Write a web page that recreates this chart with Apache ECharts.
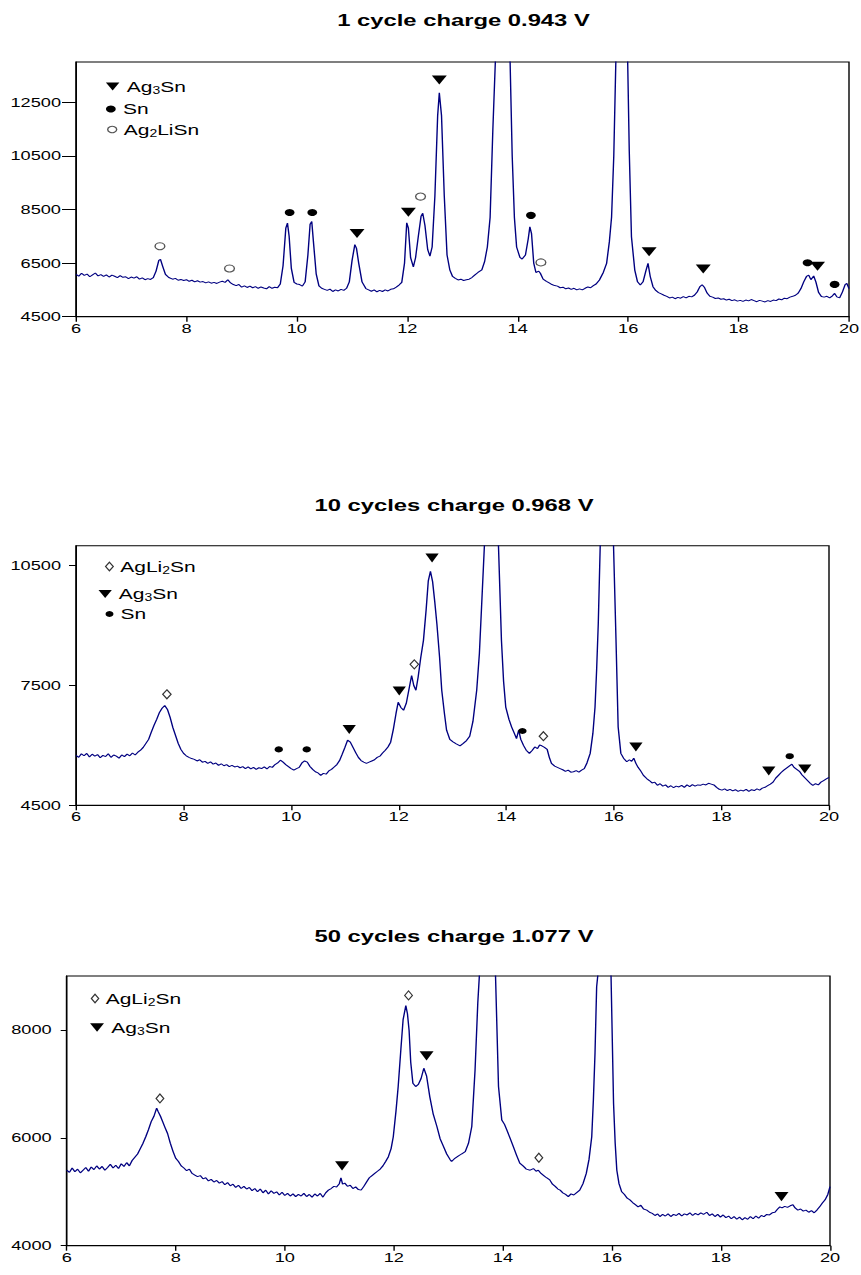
<!DOCTYPE html>
<html>
<head>
<meta charset="utf-8">
<script src="https://cdn.jsdelivr.net/npm/echarts@6/dist/echarts.min.js"></script>
<style>
html, body { margin: 0; background: #fff; overflow: hidden; }
/* the reference is stretched sideways, so the chart is drawn narrow and widened */
#chart { width: 615px; height: 1275px; transform: scaleX(1.4); transform-origin: 0 0; }
</style>
</head>
<body>
<div id="chart"></div>
<script>
// titles and tick labels
const titles = ['1 cycle charge 0.943 V', '10 cycles charge 0.968 V', '50 cycles charge 1.077 V']
const xTicks = [6, 8, 10, 12, 14, 16, 18, 20]
const c1Ticks = [4500, 6500, 8500, 10500, 12500]
const c10Ticks = [4500, 7500, 10500]
const c50Ticks = [4000, 6000, 8000]

// 1 cycle pattern [2theta, counts]
const cycle1 = [
  [6.00, 6080], [6.05, 6010], [6.10, 6120], [6.15, 6040], [6.20, 6090], [6.25, 5990], [6.30, 6060], [6.35, 6130],
  [6.40, 6020], [6.45, 6070], [6.50, 6000], [6.55, 6060], [6.60, 5980], [6.65, 6050], [6.70, 6010], [6.75, 5960],
  [6.80, 6030], [6.85, 5970], [6.90, 5990], [6.95, 5920], [7.00, 5980], [7.05, 5940], [7.10, 5990], [7.15, 5900],
  [7.20, 5950], [7.25, 5880], [7.30, 5920], [7.35, 5890], [7.40, 5960], [7.45, 6200], [7.50, 6600], [7.53, 6640],
  [7.57, 6380], [7.62, 6080], [7.68, 5960], [7.75, 5900], [7.80, 5930], [7.85, 5860], [7.90, 5890], [7.95, 5850],
  [8.00, 5880], [8.05, 5820], [8.10, 5860], [8.15, 5800], [8.20, 5840], [8.25, 5790], [8.30, 5810], [8.35, 5760],
  [8.40, 5800], [8.45, 5750], [8.50, 5780], [8.55, 5740], [8.60, 5790], [8.65, 5820], [8.70, 5780], [8.75, 5880],
  [8.80, 5760], [8.85, 5700], [8.90, 5660], [8.95, 5700], [9.00, 5600], [9.05, 5650], [9.10, 5590], [9.15, 5640],
  [9.20, 5580], [9.25, 5620], [9.30, 5560], [9.35, 5610], [9.40, 5570], [9.45, 5540], [9.50, 5620], [9.55, 5560],
  [9.60, 5600], [9.65, 5580], [9.70, 5720], [9.75, 6400], [9.80, 7800], [9.83, 7990], [9.86, 7500], [9.90, 6300],
  [9.95, 5780], [10.00, 5720], [10.05, 5700], [10.10, 5640], [10.15, 5800], [10.20, 6800], [10.24, 7950], [10.27, 8050],
  [10.30, 7300], [10.35, 6100], [10.40, 5650], [10.45, 5560], [10.50, 5520], [10.55, 5480], [10.60, 5530], [10.65, 5440],
  [10.70, 5500], [10.75, 5460], [10.80, 5520], [10.85, 5480], [10.90, 5560], [10.95, 5800], [11.00, 6600], [11.05, 7190],
  [11.08, 7050], [11.12, 6500], [11.18, 5800], [11.25, 5550], [11.30, 5500], [11.35, 5450], [11.40, 5500], [11.45, 5430],
  [11.50, 5480], [11.55, 5440], [11.60, 5500], [11.65, 5460], [11.70, 5520], [11.75, 5540], [11.80, 5600], [11.85, 5680],
  [11.90, 5780], [11.95, 6500], [11.99, 8000], [12.02, 7800], [12.06, 6700], [12.11, 6360], [12.15, 6700], [12.20, 7500],
  [12.25, 8250], [12.28, 8360], [12.32, 7900], [12.37, 7000], [12.41, 6760], [12.45, 7100], [12.50, 9000], [12.55, 12000],
  [12.58, 12850], [12.62, 12000], [12.67, 9000], [12.72, 6800], [12.77, 6250], [12.82, 6000], [12.87, 5930], [12.92, 5870],
  [12.97, 5900], [13.02, 5850], [13.07, 5880], [13.12, 5900], [13.17, 5960], [13.22, 6050], [13.28, 6150], [13.35, 6250],
  [13.40, 6550], [13.45, 7100], [13.50, 8200], [13.55, 11500], [13.60, 14300], [13.66, 30000], [13.73, 40000], [13.80, 28000],
  [13.86, 14200], [13.90, 10500], [13.94, 8200], [13.98, 7100], [14.04, 6710], [14.08, 6650], [14.14, 6800], [14.19, 7400],
  [14.22, 7850], [14.25, 7600], [14.29, 6500], [14.33, 6150], [14.38, 6200], [14.41, 6120], [14.46, 5900], [14.52, 5820],
  [14.57, 5760], [14.62, 5700], [14.67, 5660], [14.72, 5640], [14.77, 5580], [14.82, 5600], [14.87, 5540], [14.92, 5570],
  [14.97, 5520], [15.02, 5560], [15.07, 5500], [15.12, 5540], [15.17, 5500], [15.22, 5560], [15.27, 5610], [15.32, 5580],
  [15.37, 5660], [15.42, 5720], [15.48, 5870], [15.55, 6150], [15.61, 6490], [15.66, 7300], [15.70, 8220], [15.74, 10500],
  [15.78, 14300], [15.84, 30000], [15.90, 42000], [15.95, 25000], [15.99, 14200], [16.02, 10700], [16.06, 7480], [16.12, 6240],
  [16.17, 5800], [16.22, 5680], [16.27, 5800], [16.32, 6200], [16.36, 6490], [16.40, 6000], [16.45, 5620], [16.50, 5480],
  [16.55, 5400], [16.60, 5350], [16.65, 5300], [16.70, 5260], [16.75, 5200], [16.80, 5230], [16.85, 5170], [16.90, 5220],
  [16.95, 5190], [17.00, 5250], [17.05, 5200], [17.10, 5260], [17.15, 5240], [17.20, 5300], [17.25, 5420], [17.30, 5620],
  [17.34, 5690], [17.38, 5600], [17.43, 5380], [17.48, 5260], [17.53, 5230], [17.58, 5180], [17.63, 5200], [17.68, 5150],
  [17.73, 5170], [17.78, 5120], [17.83, 5150], [17.88, 5100], [17.93, 5130], [17.98, 5080], [18.03, 5110], [18.08, 5070],
  [18.13, 5120], [18.18, 5090], [18.23, 5140], [18.28, 5100], [18.33, 5060], [18.38, 5110], [18.43, 5080], [18.48, 5050],
  [18.53, 5100], [18.58, 5070], [18.63, 5120], [18.68, 5100], [18.73, 5160], [18.78, 5130], [18.83, 5190], [18.88, 5170],
  [18.93, 5230], [18.98, 5260], [19.03, 5300], [19.08, 5380], [19.13, 5550], [19.18, 5800], [19.23, 6000], [19.27, 6050],
  [19.31, 5880], [19.36, 6020], [19.40, 5800], [19.45, 5400], [19.50, 5250], [19.55, 5230], [19.60, 5260], [19.65, 5200],
  [19.70, 5280], [19.74, 5370], [19.78, 5240], [19.83, 5200], [19.88, 5420], [19.93, 5700], [19.96, 5740], [20.00, 5550]
]

// 10 cycles pattern
const cycle10 = [
  [6.00, 5750], [6.05, 5700], [6.10, 5790], [6.15, 5740], [6.20, 5800], [6.25, 5710], [6.30, 5780], [6.35, 5730],
  [6.40, 5770], [6.45, 5690], [6.50, 5750], [6.55, 5720], [6.60, 5790], [6.65, 5700], [6.70, 5760], [6.75, 5730],
  [6.80, 5680], [6.85, 5760], [6.90, 5720], [6.95, 5780], [7.00, 5740], [7.05, 5810], [7.10, 5760], [7.15, 5830],
  [7.20, 5880], [7.25, 5950], [7.30, 6050], [7.35, 6150], [7.40, 6330], [7.45, 6500], [7.50, 6650], [7.55, 6820],
  [7.60, 6930], [7.65, 7000], [7.70, 6900], [7.75, 6700], [7.80, 6450], [7.85, 6250], [7.90, 6050], [7.95, 5900],
  [8.00, 5800], [8.05, 5740], [8.10, 5700], [8.15, 5670], [8.20, 5650], [8.25, 5610], [8.30, 5640], [8.35, 5580],
  [8.40, 5600], [8.45, 5550], [8.50, 5590], [8.55, 5530], [8.60, 5560], [8.65, 5500], [8.70, 5540], [8.75, 5490],
  [8.80, 5520], [8.85, 5470], [8.90, 5500], [8.95, 5460], [9.00, 5480], [9.05, 5440], [9.10, 5470], [9.15, 5420],
  [9.20, 5460], [9.25, 5410], [9.30, 5450], [9.35, 5400], [9.40, 5440], [9.45, 5420], [9.50, 5460], [9.55, 5410],
  [9.60, 5470], [9.65, 5450], [9.70, 5520], [9.75, 5560], [9.80, 5630], [9.85, 5580], [9.90, 5520], [9.95, 5470],
  [10.00, 5420], [10.05, 5380], [10.10, 5420], [10.15, 5450], [10.20, 5560], [10.25, 5610], [10.30, 5580], [10.35, 5470],
  [10.40, 5400], [10.45, 5340], [10.50, 5310], [10.55, 5250], [10.60, 5300], [10.65, 5280], [10.70, 5360], [10.75, 5400],
  [10.80, 5460], [10.85, 5520], [10.90, 5620], [10.95, 5780], [11.00, 5950], [11.05, 6130], [11.10, 6080], [11.15, 5950],
  [11.20, 5820], [11.25, 5700], [11.30, 5620], [11.35, 5580], [11.40, 5550], [11.45, 5580], [11.50, 5610], [11.55, 5640],
  [11.60, 5700], [11.65, 5730], [11.70, 5810], [11.75, 5880], [11.80, 5960], [11.85, 6080], [11.90, 6400], [11.95, 6800],
  [11.99, 7080], [12.04, 6950], [12.09, 6880], [12.14, 7050], [12.19, 7400], [12.24, 7750], [12.28, 7500], [12.32, 7380],
  [12.36, 7700], [12.41, 8200], [12.46, 8630], [12.51, 9400], [12.55, 10120], [12.59, 10360], [12.63, 10100], [12.67, 9600],
  [12.71, 9040], [12.76, 8200], [12.80, 7380], [12.85, 6800], [12.89, 6380], [12.95, 6150], [13.01, 6090], [13.07, 6040],
  [13.14, 5990], [13.20, 6050], [13.26, 6120], [13.32, 6230], [13.38, 6600], [13.45, 7380], [13.50, 8300], [13.54, 9460],
  [13.60, 11200], [13.66, 20000], [13.72, 30000], [13.79, 20000], [13.85, 11200], [13.91, 8630], [13.95, 7600], [13.99, 6960],
  [14.05, 6650], [14.10, 6460], [14.15, 6300], [14.19, 6170], [14.23, 6380], [14.27, 6150], [14.32, 6000], [14.37, 5880],
  [14.43, 5800], [14.48, 5870], [14.53, 5960], [14.58, 5920], [14.62, 6010], [14.66, 5990], [14.71, 5950], [14.76, 5900],
  [14.80, 5700], [14.84, 5550], [14.90, 5480], [14.95, 5450], [15.00, 5420], [15.05, 5390], [15.10, 5350], [15.15, 5380],
  [15.20, 5330], [15.25, 5340], [15.30, 5370], [15.35, 5330], [15.40, 5380], [15.45, 5420], [15.50, 5560], [15.56, 5800],
  [15.61, 6300], [15.65, 6960], [15.68, 7900], [15.71, 9040], [15.75, 11200], [15.82, 20000], [15.88, 30000], [15.94, 20000],
  [15.99, 11200], [16.04, 8630], [16.08, 6460], [16.13, 5800], [16.18, 5680], [16.24, 5590], [16.29, 5640], [16.33, 5600],
  [16.37, 5680], [16.41, 5550], [16.45, 5450], [16.49, 5380], [16.55, 5250], [16.61, 5170], [16.66, 5120], [16.71, 5060],
  [16.76, 5080], [16.81, 5000], [16.86, 5040], [16.91, 4980], [16.96, 5010], [17.01, 4950], [17.06, 4990], [17.11, 4940],
  [17.16, 4980], [17.21, 4960], [17.26, 5000], [17.31, 4950], [17.36, 5010], [17.41, 4970], [17.46, 5020], [17.51, 4980],
  [17.56, 5010], [17.61, 5000], [17.66, 5030], [17.71, 5010], [17.76, 5050], [17.81, 5030], [17.86, 5010], [17.91, 4950],
  [17.96, 4900], [18.01, 4880], [18.06, 4910], [18.11, 4870], [18.16, 4900], [18.21, 4860], [18.26, 4890], [18.31, 4850],
  [18.36, 4880], [18.41, 4860], [18.46, 4900], [18.51, 4850], [18.56, 4890], [18.61, 4870], [18.66, 4910], [18.71, 4880],
  [18.76, 4930], [18.81, 4950], [18.86, 4990], [18.91, 5030], [18.96, 5080], [19.01, 5180], [19.06, 5250], [19.11, 5320],
  [19.16, 5380], [19.21, 5430], [19.26, 5480], [19.31, 5530], [19.35, 5450], [19.40, 5400], [19.45, 5350], [19.50, 5260],
  [19.55, 5190], [19.60, 5120], [19.65, 5050], [19.70, 5000], [19.75, 5040], [19.80, 5010], [19.85, 5080], [19.90, 5120],
  [19.95, 5160], [20.00, 5200]
]

// 50 cycles pattern
const cycle50 = [
  [6.00, 5400], [6.05, 5360], [6.10, 5440], [6.15, 5370], [6.20, 5420], [6.25, 5350], [6.30, 5400], [6.35, 5450],
  [6.40, 5380], [6.45, 5460], [6.50, 5410], [6.55, 5480], [6.60, 5420], [6.65, 5470], [6.70, 5400], [6.75, 5450],
  [6.80, 5510], [6.85, 5440], [6.90, 5490], [6.95, 5430], [7.00, 5520], [7.05, 5470], [7.10, 5540], [7.15, 5480],
  [7.20, 5580], [7.25, 5640], [7.30, 5700], [7.35, 5800], [7.40, 5900], [7.45, 6020], [7.50, 6150], [7.55, 6300],
  [7.60, 6400], [7.65, 6550], [7.68, 6480], [7.72, 6400], [7.76, 6300], [7.80, 6200], [7.85, 6080], [7.90, 5900],
  [7.95, 5750], [8.00, 5620], [8.05, 5560], [8.10, 5480], [8.15, 5440], [8.20, 5390], [8.25, 5420], [8.30, 5340],
  [8.35, 5310], [8.40, 5280], [8.45, 5300], [8.50, 5240], [8.55, 5260], [8.60, 5200], [8.65, 5230], [8.70, 5180],
  [8.75, 5210], [8.80, 5160], [8.85, 5190], [8.90, 5130], [8.95, 5170], [9.00, 5110], [9.05, 5140], [9.10, 5080],
  [9.15, 5120], [9.20, 5060], [9.25, 5100], [9.30, 5050], [9.35, 5080], [9.40, 5020], [9.45, 5060], [9.50, 5000],
  [9.55, 5050], [9.60, 4980], [9.65, 5030], [9.70, 4960], [9.75, 5020], [9.80, 4970], [9.85, 5000], [9.90, 4940],
  [9.95, 4990], [10.00, 4930], [10.05, 4970], [10.10, 4920], [10.15, 4960], [10.20, 4910], [10.25, 4950], [10.30, 4920],
  [10.35, 4970], [10.40, 4910], [10.45, 4950], [10.50, 4900], [10.55, 4960], [10.60, 4920], [10.65, 4970], [10.70, 4900],
  [10.75, 4980], [10.80, 5030], [10.85, 5060], [10.90, 5100], [10.95, 5090], [11.00, 5150], [11.03, 5260], [11.06, 5140],
  [11.10, 5160], [11.15, 5100], [11.20, 5120], [11.25, 5060], [11.30, 5090], [11.35, 5040], [11.40, 5030], [11.45, 5100],
  [11.50, 5180], [11.55, 5260], [11.60, 5300], [11.65, 5340], [11.70, 5380], [11.75, 5420], [11.80, 5480], [11.85, 5560],
  [11.90, 5650], [11.95, 5800], [11.99, 6020], [12.04, 6500], [12.08, 6950], [12.13, 7650], [12.17, 8190], [12.22, 8450],
  [12.25, 8300], [12.28, 7990], [12.31, 7400], [12.35, 7010], [12.40, 6950], [12.45, 6990], [12.50, 7100], [12.55, 7290],
  [12.60, 7150], [12.66, 6760], [12.72, 6450], [12.79, 6210], [12.85, 5980], [12.91, 5840], [12.97, 5700], [13.03, 5600],
  [13.06, 5560], [13.12, 5620], [13.18, 5660], [13.24, 5700], [13.31, 5745], [13.37, 5900], [13.43, 6210], [13.49, 7260],
  [13.54, 8500], [13.58, 9200], [13.65, 15000], [13.72, 25000], [13.80, 15000], [13.86, 9200], [13.92, 6950], [13.98, 6330],
  [14.03, 6250], [14.07, 6150], [14.13, 6000], [14.19, 5840], [14.25, 5680], [14.31, 5530], [14.37, 5480], [14.43, 5420],
  [14.50, 5400], [14.56, 5430], [14.61, 5380], [14.65, 5400], [14.70, 5340], [14.75, 5300], [14.80, 5260], [14.86, 5220],
  [14.91, 5140], [14.96, 5100], [15.01, 5050], [15.05, 5030], [15.10, 4980], [15.15, 4950], [15.20, 4910], [15.25, 4960],
  [15.30, 4940], [15.36, 4990], [15.41, 5030], [15.47, 5150], [15.53, 5340], [15.58, 5600], [15.63, 6020], [15.66, 6700],
  [15.69, 7570], [15.72, 8800], [15.76, 9200], [15.82, 15000], [15.88, 25000], [15.94, 15000], [15.98, 9200], [16.03, 6640],
  [16.06, 5900], [16.09, 5400], [16.13, 5150], [16.18, 5000], [16.23, 4950], [16.28, 4880], [16.33, 4850], [16.38, 4800],
  [16.43, 4760], [16.48, 4720], [16.53, 4750], [16.58, 4680], [16.64, 4660], [16.69, 4620], [16.74, 4600], [16.79, 4560],
  [16.84, 4590], [16.88, 4540], [16.93, 4580], [16.98, 4550], [17.03, 4590], [17.08, 4540], [17.13, 4580], [17.18, 4560],
  [17.23, 4600], [17.28, 4550], [17.33, 4590], [17.38, 4570], [17.43, 4610], [17.48, 4560], [17.53, 4600], [17.58, 4570],
  [17.63, 4610], [17.68, 4580], [17.74, 4620], [17.79, 4560], [17.84, 4590], [17.89, 4540], [17.94, 4580], [17.99, 4530],
  [18.04, 4570], [18.09, 4520], [18.14, 4550], [18.19, 4500], [18.24, 4540], [18.29, 4490], [18.34, 4530], [18.39, 4480],
  [18.44, 4520], [18.49, 4490], [18.54, 4540], [18.59, 4500], [18.64, 4550], [18.69, 4510], [18.74, 4560], [18.79, 4540],
  [18.84, 4580], [18.89, 4570], [18.94, 4610], [18.99, 4620], [19.04, 4680], [19.08, 4720], [19.12, 4700], [19.17, 4730],
  [19.22, 4710], [19.27, 4740], [19.32, 4760], [19.36, 4700], [19.41, 4660], [19.46, 4680], [19.51, 4640], [19.56, 4660],
  [19.61, 4620], [19.66, 4650], [19.71, 4610], [19.76, 4660], [19.81, 4720], [19.86, 4790], [19.91, 4850], [19.96, 4950],
  [20.00, 5095]
]

// phase markers [2theta, height of the mark]
const c1Ag3Sn = [[11.09, 7600], [12.02, 8400], [12.58, 13330], [16.38, 6920], [17.36, 6275], [19.43, 6385]]
const c1Sn = [[9.87, 8385], [10.28, 8385], [14.24, 8280], [19.25, 6510], [19.74, 5705]]
const c1Ag2LiSn = [[7.52, 7130], [8.78, 6300], [12.24, 8980], [14.42, 6525]]
const c10AgLi2Sn = [[7.69, 7280], [12.29, 8030], [14.69, 6230]]
const c10Ag3Sn = [[11.08, 6400], [12.01, 7360], [12.62, 10690], [16.41, 5960], [18.88, 5360], [19.55, 5410]]
const c10Sn = [[9.77, 5900], [10.29, 5900], [14.30, 6360], [19.27, 5730]]
const c50AgLi2Sn = [[7.71, 6730], [12.27, 8640], [14.66, 5630]]
const c50Ag3Sn = [[11.05, 5480], [12.60, 7520], [19.11, 4910]]

const SX = 1.4
const px = v => v / SX
const FONT = '"Liberation Sans", Arial, sans-serif'
const TRI = 'path://M0,0L12,0L6,10Z'

const grids = [
  { left: px(76), top: 62, width: px(773), height: 254.7 },
  { left: px(76), top: 545.7, width: px(753), height: 259.6 },
  { left: px(66.7), top: 976, width: px(763.3), height: 269.7 }
]
const yRange = [[4500, 14000], [4500, 11000], [4000, 9000]]
const yTicks = [c1Ticks, c10Ticks, c50Ticks]
const yTickLen = [px(14), px(7), px(6)]

const richName = {
  Ag3Sn: '{n|Ag}{s|3}{n|Sn}',
  Sn: '{n|Sn}',
  Ag2LiSn: '{n|Ag}{s|2}{n|LiSn}',
  AgLi2Sn: '{n|AgLi}{s|2}{n|Sn}'
}

const markStyle = {
  Ag3Sn: { symbol: TRI, color: '#000' },
  Sn: { symbol: 'circle', color: '#000' },
  Ag2LiSn: { symbol: 'circle', color: '#fff', borderColor: '#555', borderWidth: 1 },
  AgLi2Sn: { symbol: 'diamond', color: '#fff', borderColor: '#333', borderWidth: 1 }
}

// one legend box per entry, placed from the reference (icon centre, text start, row centre)
function legendAt(name, cx, tx, cy, iw, ih) {
  const w = px(iw)
  const left = ((px(tx) - 5 - w) + (px(cx) - w / 2)) / 2
  const st = markStyle[name]
  return {
    data: [{ name: name, icon: st.symbol, itemStyle: { color: st.color, borderColor: st.borderColor || st.color, borderWidth: st.borderWidth || 0 } }],
    left: left,
    top: cy - 9,
    padding: 0,
    itemWidth: w,
    itemHeight: ih,
    selectedMode: false,
    formatter: n => richName[n],
    textStyle: {
      color: '#000',
      fontFamily: FONT,
      rich: {
        n: { fontSize: 15, lineHeight: 18, fontFamily: FONT, color: '#000' },
        s: { fontSize: 10, lineHeight: 10, verticalAlign: 'bottom', fontFamily: FONT, color: '#000' }
      }
    }
  }
}

function marks(name, data, idx, size) {
  const st = markStyle[name]
  return {
    name: name,
    type: 'scatter',
    xAxisIndex: idx,
    yAxisIndex: idx,
    data: data,
    symbol: st.symbol,
    symbolSize: size,
    z: 5,
    itemStyle: { color: st.color, borderColor: st.borderColor || st.color, borderWidth: st.borderWidth || 0, opacity: 1 },
    emphasis: { disabled: true }
  }
}

function pattern(data, idx) {
  return {
    name: 'pattern' + idx,
    type: 'line',
    xAxisIndex: idx,
    yAxisIndex: idx,
    data: data,
    showSymbol: false,
    clip: true,
    lineStyle: { color: '#000080', width: 1 },
    emphasis: { disabled: true }
  }
}

const titleCx = [463.5, 454, 454]
const titleCy = [20, 505, 936]

const option = {
  animation: false,
  backgroundColor: '#fff',
  title: titles.map((t, i) => ({
    text: t,
    left: px(titleCx[i]),
    top: titleCy[i] - 9,
    textAlign: 'center',
    padding: 0,
    textStyle: { fontSize: 17, fontWeight: 'bold', color: '#000', fontFamily: FONT }
  })),
  legend: [
    legendAt('Ag3Sn', 112, 128.3, 88, 14.3, 8),
    legendAt('Sn', 109, 125, 110.5, 10, 7),
    legendAt('Ag2LiSn', 109.5, 125, 131, 9, 6.5),
    legendAt('AgLi2Sn', 108.3, 120, 568, 7.7, 8.7),
    legendAt('Ag3Sn', 106.7, 117.3, 595.5, 13.3, 9),
    legendAt('Sn', 108.3, 121.7, 615.5, 8, 6),
    legendAt('AgLi2Sn', 94.3, 105, 1000, 7.3, 8.7),
    legendAt('Ag3Sn', 99.3, 109.3, 1029, 14.3, 8.3)
  ],
  grid: grids.map(g => Object.assign({ show: true, borderColor: '#000', borderWidth: 1, backgroundColor: 'transparent', outerBoundsMode: 'none' }, g)),
  xAxis: grids.map((g, i) => ({
    type: 'value',
    gridIndex: i,
    min: 6,
    max: 20,
    axisLine: { show: true, lineStyle: { color: '#000', width: 1 } },
    axisTick: { show: true, length: 5, customValues: xTicks, lineStyle: { color: '#000' } },
    axisLabel: { customValues: xTicks, margin: 5, fontSize: 13, color: '#000', fontFamily: FONT },
    splitLine: { show: false }
  })),
  yAxis: grids.map((g, i) => ({
    type: 'value',
    gridIndex: i,
    min: yRange[i][0],
    max: yRange[i][1],
    axisLine: { show: true, lineStyle: { color: '#000', width: 1 } },
    axisTick: { show: true, length: yTickLen[i], customValues: yTicks[i], lineStyle: { color: '#000' } },
    axisLabel: {
      customValues: yTicks[i],
      formatter: v => String(v),
      margin: px(15),
      fontSize: 13,
      color: '#000',
      fontFamily: FONT
    },
    splitLine: { show: false }
  })),
  series: [
    pattern(cycle1, 0),
    pattern(cycle10, 1),
    pattern(cycle50, 2),
    marks('Ag3Sn', c1Ag3Sn, 0, [10.7, 9]),
    marks('Sn', c1Sn, 0, 7),
    marks('Ag2LiSn', c1Ag2LiSn, 0, 7),
    marks('AgLi2Sn', c10AgLi2Sn, 1, [6, 9]),
    marks('Ag3Sn', c10Ag3Sn, 1, [9.5, 9]),
    marks('Sn', c10Sn, 1, 6),
    marks('AgLi2Sn', c50AgLi2Sn, 2, [5.5, 9]),
    marks('Ag3Sn', c50Ag3Sn, 2, [10, 9.3])
  ]
}

const myChart = echarts.init(document.getElementById('chart'), null, { renderer: 'svg' })
myChart.setOption(option)
</script>
</body>
</html>
